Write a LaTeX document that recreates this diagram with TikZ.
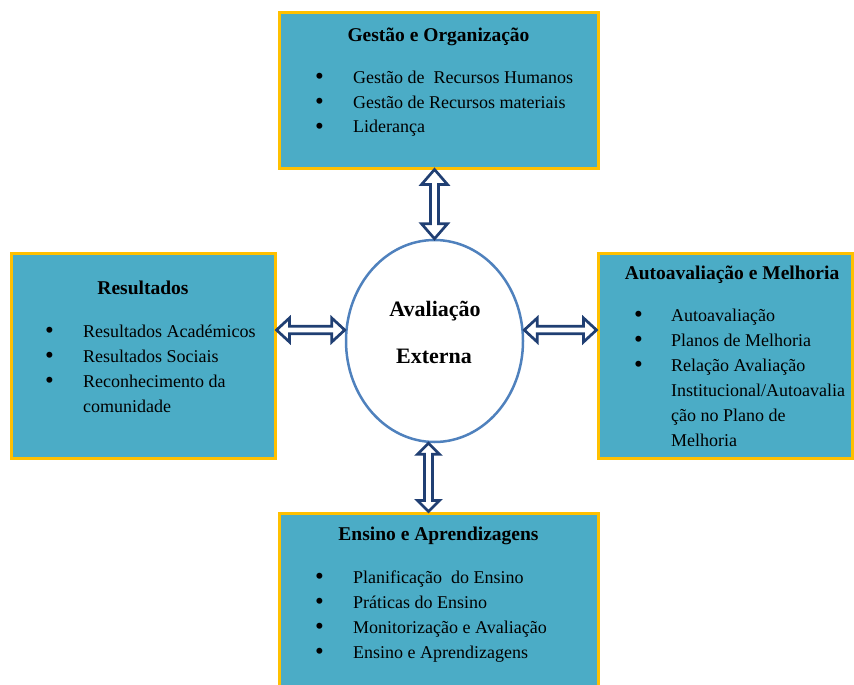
\documentclass[tikz,border=0pt]{standalone}
\usepackage{fontspec}
\setmainfont{Liberation Serif}
\usetikzlibrary{calc,shapes.geometric}
\definecolor{boxfill}{HTML}{4BACC6}
\definecolor{boxline}{HTML}{FFC000}
\definecolor{ellline}{HTML}{4F81BD}
\definecolor{arrline}{HTML}{203F73}
\tikzset{
  panel/.style={draw=boxline, line width=3pt, fill=boxfill, rectangle, inner sep=0pt},
  ptitle/.style={anchor=base, inner sep=0pt, font=\fontsize{19.5}{23}\selectfont\bfseries},
  plist/.style={anchor=base west, inner sep=0pt, font=\fontsize{18}{25}\selectfont},
  etext/.style={anchor=base, inner sep=0pt, font=\fontsize{22}{26}\selectfont\bfseries},
  darr/.style={draw=arrline, line width=2.7pt, fill=white, line join=miter},
}
% vertical double arrow: #1 upper end, #2 lower end, #3 head half width, #4 head length, #5 shaft half width
\newcommand{\VDArrow}[5]{%
  \draw[darr] let \p1=(#1), \p2=(#2) in
  (\x1,\y1) -- ({\x1-#3},{\y1-#4}) -- ({\x1-#5},{\y1-#4}) -- ({\x1-#5},{\y2+#4})
  -- ({\x1-#3},{\y2+#4}) -- (\x1,\y2) -- ({\x1+#3},{\y2+#4}) -- ({\x1+#5},{\y2+#4})
  -- ({\x1+#5},{\y1-#4}) -- ({\x1+#3},{\y1-#4}) -- cycle;}
% horizontal double arrow: #1 left end, #2 right end
\newcommand{\HDArrow}[5]{%
  \draw[darr] let \p1=(#1), \p2=(#2) in
  (\x1,\y1) -- ({\x1+#4},{\y1+#3}) -- ({\x1+#4},{\y1+#5}) -- ({\x2-#4},{\y1+#5})
  -- ({\x2-#4},{\y1+#3}) -- (\x2,\y1) -- ({\x2-#4},{\y1-#3}) -- ({\x2-#4},{\y1-#5})
  -- ({\x1+#4},{\y1-#5}) -- ({\x1+#4},{\y1-#3}) -- cycle;}
\newcommand{\blt}{\raisebox{-1.8pt}{\fontsize{25}{25}\selectfont\textbullet}}
\begin{document}
\begin{tikzpicture}[x=1pt, y=-1pt]
  \useasboundingbox (0,0) rectangle (854,685);
  \clip (0,0) rectangle (854,685);
  % boxes
  \node[panel, minimum width=319pt, minimum height=155pt] (top) at (438.5,90.5) {};
  \node[panel, minimum width=264pt, minimum height=205pt] (left) at (143,355.5) {};
  \node[panel, minimum width=254pt, minimum height=205pt] (right) at (725,355.5) {};
  \node[panel, minimum width=319pt, minimum height=190pt] (bot) at (438.5,608) {};
  % ellipse
  \node[ellipse, draw=ellline, line width=2.5pt, fill=white, minimum width=177pt, minimum height=202pt, inner sep=0pt] (ell) at (434.5,341) {};
  \node[etext] (ev1) at (435,316) {Avaliação};
  \node[etext] (ev2) at (434,363) {Externa};
  % top box text
  \node[ptitle] (toptitle) at (438.5,42) {Gestão e Organização};
  \node[plist] (toplist) at (315,83) {\begin{tabular}[t]{@{}p{38pt}@{}l@{}}
    \blt & Gestão de~ Recursos Humanos\\
    \blt & Gestão de Recursos materiais\\
    \blt & Liderança
  \end{tabular}};
  % left box text
  \node[ptitle] (lefttitle) at (143,294) {Resultados};
  \node[plist] (leftlist) at (45,337) {\begin{tabular}[t]{@{}p{38pt}@{}l@{}}
    \blt & Resultados Académicos\\
    \blt & Resultados Sociais\\
    \blt & Reconhecimento da\\
         & comunidade
  \end{tabular}};
  % right box text
  \node[ptitle] (righttitle) at (732,279) {Autoavaliação e Melhoria};
  \node[plist] (rightlist) at (634,321) {\begin{tabular}[t]{@{}p{37pt}@{}l@{}}
    \blt & Autoavaliação\\
    \blt & Planos de Melhoria\\
    \blt & Relação Avaliação\\
         & Institucional/Autoavalia\\
         & ção no Plano de\\
         & Melhoria
  \end{tabular}};
  % bottom box text
  \node[ptitle] (bottitle) at (438.5,540) {Ensino e Aprendizagens};
  \node[plist] (botlist) at (315,583) {\begin{tabular}[t]{@{}p{38pt}@{}l@{}}
    \blt & Planificação~ do Ensino\\
    \blt & Práticas do Ensino\\
    \blt & Monitorização e Avaliação\\
    \blt & Ensino e Aprendizagens
  \end{tabular}};
  % connector end points
  \coordinate (ta1) at (top.south -| ell.north);
  \coordinate (ta2) at (ell.north);
  \coordinate (ba1) at ($(ell.south)+(-6,0)$);
  \coordinate (ba2) at (bot.north -| ba1);
  \coordinate (la1) at ($(left.east |- ell.west)+(0,-11)$);
  \coordinate (la2) at (ell.west |- la1);
  \coordinate (ra1) at (ell.east |- la1);
  \coordinate (ra2) at (right.west |- la1);
  % double arrows
  \VDArrow{ta1}{ta2}{13pt}{15pt}{4pt}
  \VDArrow{ba1}{ba2}{11pt}{11pt}{4pt}
  \HDArrow{la1}{la2}{12pt}{13pt}{3.8pt}
  \HDArrow{ra1}{ra2}{12pt}{13pt}{3.8pt}
\end{tikzpicture}
\end{document}
